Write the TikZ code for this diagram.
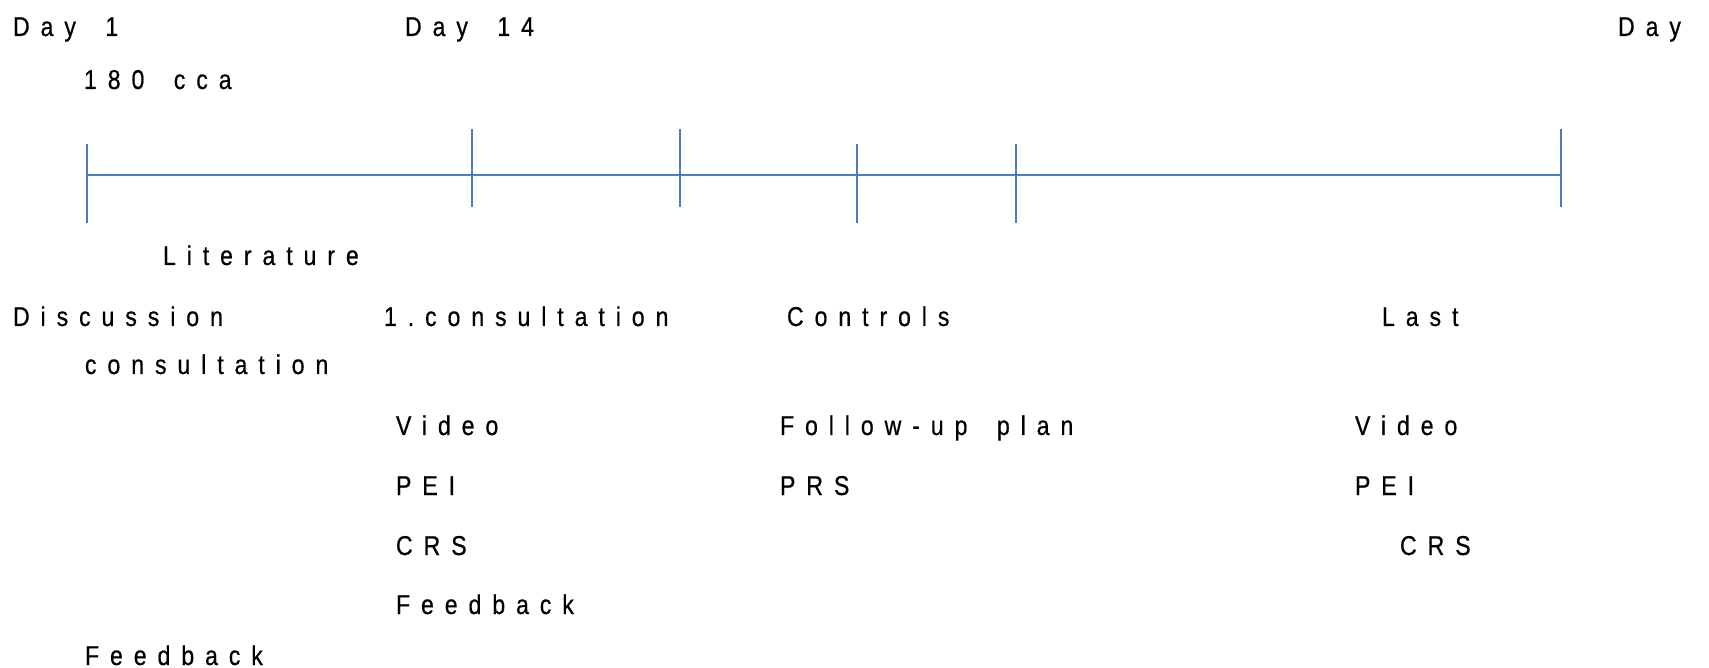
\documentclass[tikz,border=0pt]{standalone}
\usepackage{fontspec}
\setmainfont{Liberation Sans}[LetterSpace=40, FakeStretch=0.85, WordSpace=1.7, FakeBold=0.5]
\usepackage{tikz}

\begin{document}
\begin{tikzpicture}[x=0.02cm, y=-0.02cm,
    inner sep=0pt, outer sep=0pt,
    axis/.style={line width=1.1pt, color=timeline},
    tickline/.style={line width=1.1pt, color=timeline},
    txt/.style={anchor=base west, font=\fontsize{15.5}{18}\selectfont},
]
    % Colors
    \definecolor{timeline}{RGB}{74,126,187}

    \useasboundingbox (0,0) rectangle (1709,668);

    % Time axis
    \coordinate (start) at (87,175);
    \coordinate (end)   at (1561,175);
    \draw[axis] (start) -- (end);

    % Ticks set higher
    \foreach \x in {472, 680, 1561}
        \draw[tickline] (\x,129) -- (\x,207);
    % Ticks set lower
    \foreach \x in {87, 857, 1016}
        \draw[tickline] (\x,144) -- (\x,223);

    % Days above the axis
    \node[txt] (day1)  at (13,36)   {Day 1};
    \node[txt] (day14) at (405,36)  {Day 14};
    \node[txt] (dayN)  at (1618,36) {Day};
    \node[txt] (cca)   at (84,89)   {180 cca};

    % Steps below the axis
    \node[txt] (lit)     at (163,265) {Literature};
    \node[txt] (disc)    at (13,326)  {Discussion};
    \node[txt] (discb)   at (85,374)  {consultation};
    \node[txt] (first)   at (384,326) {1.consultation};
    \node[txt] (ctrl)    at (787,326) {Controls};
    \node[txt] (last)    at (1382,326) {Last};

    % First consultation
    \node[txt] (video1)  at (396,435) {Video};
    \node[txt] (pei1)    at (396,495) {PEI};
    \node[txt] (crs1)    at (396,555) {CRS};
    \node[txt] (feed1)   at (396,614) {Feedback};

    % Controls
    \node[txt] (follow)  at (780,435) {Follow-up plan};
    \node[txt] (prs)     at (780,495) {PRS};

    % Last consultation
    \node[txt] (video2)  at (1355,435) {Video};
    \node[txt] (pei2)    at (1355,495) {PEI};
    \node[txt] (crs2)    at (1400,555) {CRS};

    \node[txt] (feed0)   at (85,665)  {Feedback};
\end{tikzpicture}
\end{document}
